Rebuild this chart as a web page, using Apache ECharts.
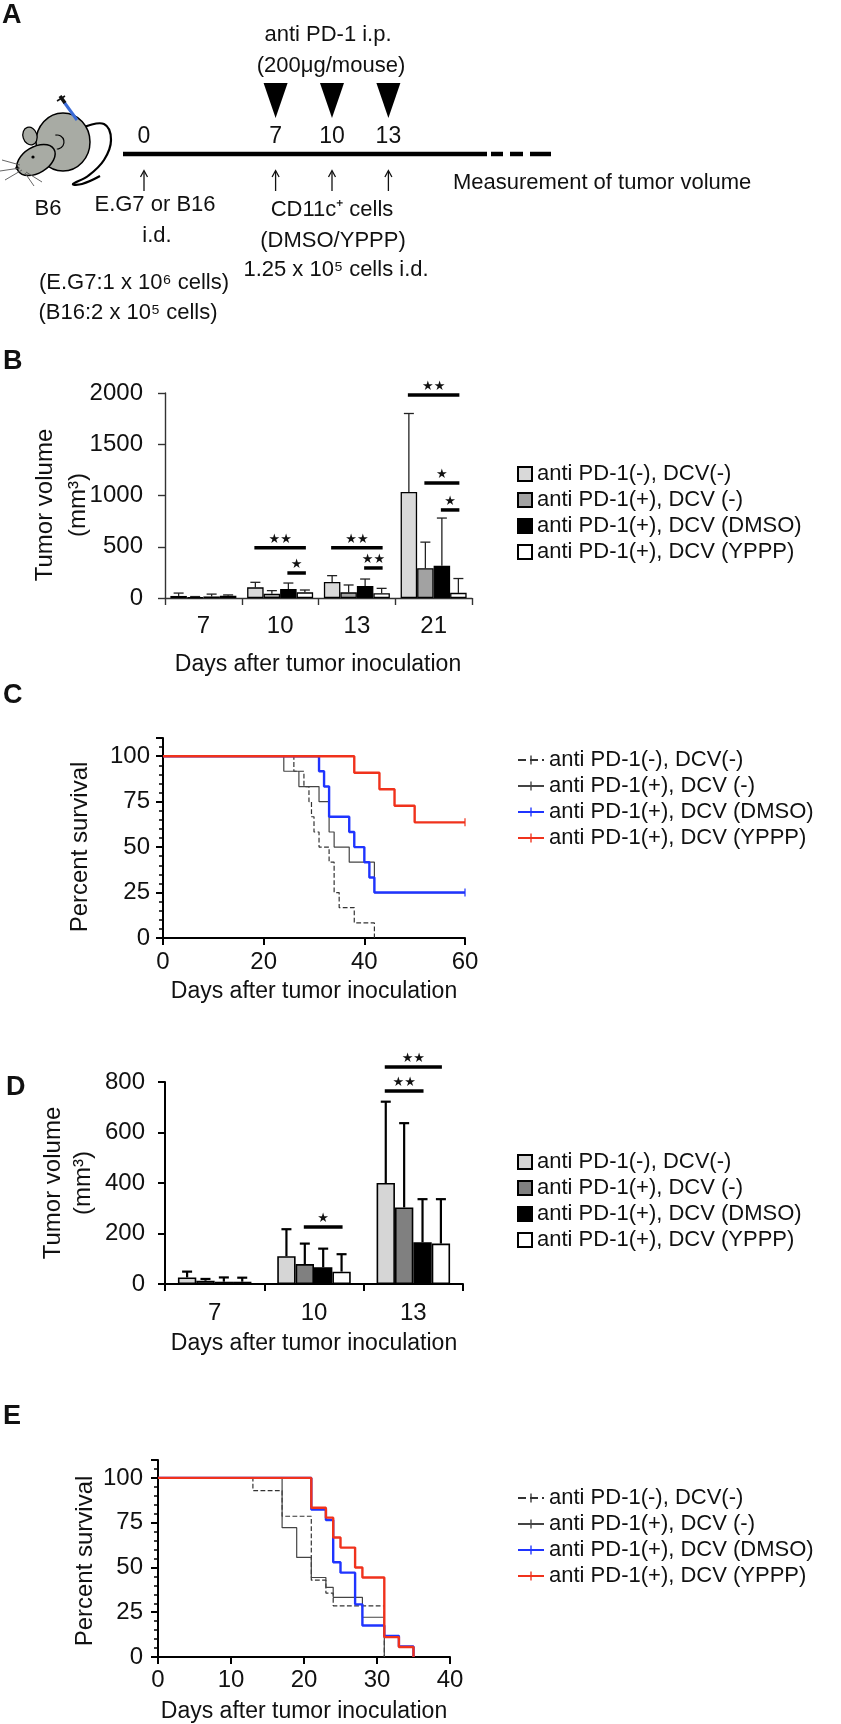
<!DOCTYPE html>
<html>
<head>
<meta charset="utf-8">
<title>anti PD-1 / DCV</title>
<script src="https://cdn.jsdelivr.net/npm/echarts@6/dist/echarts.min.js"></script>
<style>
  body {margin: 0; background: #fff;}
  .panel {position: absolute; left: 0; top: 0; width: 841px; height: 1724px;}
</style>
</head>
<body>
<div id="pa" class="panel"></div>
<div id="pb" class="panel"></div>
<div id="pc" class="panel"></div>
<div id="pd" class="panel"></div>
<div id="pe" class="panel"></div>
<script>
var FONT = '"Liberation Sans", Arial, Helvetica, sans-serif';

// ---- data ----
var groups = ['anti PD-1(-), DCV(-)', 'anti PD-1(+), DCV (-)', 'anti PD-1(+), DCV (DMSO)', 'anti PD-1(+), DCV (YPPP)'];

// A: schedule (days)
var scheduleDays = [0, 7, 10, 13];
var antiPD1Days = [7, 10, 13];
var injectDays = [0, 7, 10, 13];

// B: E.G7 tumor volume (mm3), mean and top of error bar
var daysB = ['7', '10', '13', '21'];
var bMeanCtrl = [20, 104, 156, 1034];
var bMeanPD1  = [8, 42, 55, 290];
var bMeanDMSO = [15, 88, 117, 315];
var bMeanYPPP = [22, 55, 46, 50];
var bErrCtrl = [48, 153, 218, 1800];
var bErrPD1  = [14, 72, 127, 545];
var bErrDMSO = [38, 146, 185, 780];
var bErrYPPP = [30, 78, 94, 190];
// [day index, from bar, to bar, height, stars]
var bSig = [[1, 0, 3, 490, 2], [1, 2, 3, 244, 1], [2, 0, 3, 490, 2], [2, 2, 3, 293, 2],
            [3, 0, 3, 1980, 2], [3, 1, 3, 1122, 1], [3, 2, 3, 859, 1]];

// C: E.G7 survival [day, %]
var cCtrl = [[0, 100], [26, 91.7], [28, 83.3], [29, 75], [29.5, 66.7], [30, 58.3], [31, 50], [33, 41.7], [34, 25], [35, 16.7], [38, 8.3], [42, 0]];
var cPD1  = [[0, 100], [24, 91.7], [27, 83.3], [31, 75], [33, 58.3], [34, 50], [37, 41.7], [42, 25], [60, 25]];
var cDMSO = [[0, 100], [31, 91.7], [32, 83.3], [33, 66.7], [37, 58.3], [38, 50], [40, 41.7], [41, 33.3], [42, 25], [60, 25]];
var cYPPP = [[0, 100], [38, 90.9], [43, 81.8], [46, 72.7], [50, 63.6], [60, 63.6]];

// D: B16 tumor volume (mm3)
var daysD = ['7', '10', '13'];
var dMeanCtrl = [26, 110, 400];
var dMeanPD1  = [13, 79, 303];
var dMeanDMSO = [9, 66, 165];
var dMeanYPPP = [9, 49, 160];
var dErrCtrl = [49, 217, 722];
var dErrPD1  = [20, 160, 637];
var dErrDMSO = [26, 140, 336];
var dErrYPPP = [25, 118, 336];
var dSig = [[1, 1, 3, 226, 1], [2, 0, 3, 859, 2], [2, 0, 2, 764, 2]];

// E: B16 survival [day, %]
var eCtrl = [[0, 100], [13, 92.9], [17, 78.6], [21, 42.9], [23, 35.7], [24, 28.6], [31, 28.6], [31, 0]];
var ePD1  = [[0, 100], [17, 72.2], [19, 55.6], [21, 44.4], [23, 38.9], [24, 33.3], [28, 22.2], [31, 0]];
var eDMSO = [[0, 100], [21, 82.4], [23, 76.5], [24, 52.9], [25, 47.1], [27, 29.4], [28, 17.6], [31, 11.8], [33, 5.9], [35, 0]];
var eYPPP = [[0, 100], [21, 83.3], [23, 77.8], [24, 66.7], [25, 61.1], [27, 50], [28, 44.4], [31, 11.1], [33, 5.6], [35, 0]];

// ---- helpers ----
function txt(x, y, s, o) {
  o = o || {};
  return {type: 'text', x: x, y: y, rotation: o.rot || 0, z: 10,
    style: {text: s, fontSize: o.fs || 23, fontFamily: FONT, fontWeight: o.fw || 'normal',
      fill: '#111', align: o.align || 'center', verticalAlign: 'middle'}};
}
function panelLabel(x, y, s) { return txt(x, y, s, {fs: 27, fw: 'bold', align: 'left'}); }
function seg(x1, y1, x2, y2, color, w) {
  return {type: 'line', shape: {x1: x1, y1: y1, x2: x2, y2: y2}, style: {stroke: color, lineWidth: w}};
}
function plain(v) { return String(v); }

// ---- A: schedule ----
var ca = echarts.init(document.getElementById('pa'));
var mouseFill = '#a8aba4';
var fa = {fs: 22};
ca.setOption({
  animation: false,
  grid: {left: 123, top: 0, width: 364, height: 330, outerBoundsMode: 'none'},
  xAxis: {type: 'value', min: -1.117, max: 18.245, show: false},
  yAxis: {type: 'value', min: 0, max: 330, inverse: true, show: false},
  series: [
    {type: 'custom', silent: true, data: scheduleDays.map(function (d) { return [d]; }),
      renderItem: function (params, api) {
        var p = api.coord([api.value(0), 137]);
        return {type: 'text', x: p[0], y: p[1], style: {text: String(api.value(0)), fontSize: 23,
          fontFamily: FONT, fill: '#111', align: 'center', verticalAlign: 'middle'}};
      }},
    {type: 'custom', silent: true, data: antiPD1Days.map(function (d) { return [d]; }),
      renderItem: function (params, api) {
        var p = api.coord([api.value(0), 83]);
        return {type: 'polygon', shape: {points: [[p[0] - 12, 83], [p[0] + 12, 83], [p[0], 118]]}, style: {fill: '#000'}};
      }},
    {type: 'custom', silent: true, data: injectDays.map(function (d) { return [d]; }),
      renderItem: function (params, api) {
        var x = api.coord([api.value(0), 0])[0];
        var st = {stroke: '#111', lineWidth: 1.3, fill: 'none'};
        return {type: 'group', children: [
          {type: 'line', shape: {x1: x, y1: 191, x2: x, y2: 171}, style: st},
          {type: 'polyline', shape: {points: [[x - 3.5, 177], [x, 170.5], [x + 3.5, 177]]}, style: st}]};
      }}
  ],
  graphic: [
    panelLabel(2, 16, 'A'),
    // mouse
    {type: 'polyline', shape: {points: [[84, 127], [104, 124], [111, 140], [104, 160], [88, 176], [73, 184], [82, 184], [100, 176]], smooth: 0.4},
      style: {stroke: '#000', lineWidth: 2.2, fill: 'none'}},
    {type: 'ellipse', shape: {cx: 63, cy: 142, rx: 27, ry: 29}, style: {fill: mouseFill, stroke: '#000', lineWidth: 1.5}},
    {type: 'ellipse', shape: {cx: 0, cy: 0, rx: 21, ry: 13}, x: 36, y: 160, rotation: 0.55,
      style: {fill: mouseFill, stroke: '#000', lineWidth: 1.5}},
    {type: 'ellipse', shape: {cx: 0, cy: 0, rx: 7, ry: 9}, x: 30, y: 136, rotation: 0.3,
      style: {fill: mouseFill, stroke: '#000', lineWidth: 1.3}},
    {type: 'arc', shape: {cx: 57, cy: 142, r: 7, startAngle: -1.8, endAngle: 1.6}, style: {stroke: '#000', lineWidth: 1.2, fill: 'none'}},
    {type: 'circle', shape: {cx: 33, cy: 157, r: 1.6}, style: {fill: '#000'}},
    {type: 'circle', shape: {cx: 17, cy: 168, r: 1.8}, style: {fill: '#000'}},
    seg(20, 165, 2, 160, '#555', 0.9),
    seg(20, 168, 0, 171, '#555', 0.9),
    seg(22, 170, 5, 180, '#555', 0.9),
    seg(26, 172, 42, 182, '#555', 0.9),
    seg(25, 173, 34, 186, '#555', 0.9),
    seg(64, 102, 77, 120, '#3a6ad6', 3),
    seg(60, 96, 65, 103, '#111', 3.5),
    seg(57, 101, 65, 96, '#111', 1.5),
    // timeline
    seg(123, 154, 487, 154, '#000', 4.5),
    seg(491, 154, 503, 154, '#000', 4.5),
    seg(510, 154, 523, 154, '#000', 4.5),
    seg(530, 154, 551, 154, '#000', 4.5),
    txt(328, 35, 'anti PD-1 i.p.', fa),
    txt(331, 66, '(200μg/mouse)', fa),
    txt(48, 209, 'B6', fa),
    txt(155, 205, 'E.G7 or B16', fa),
    txt(157, 236, 'i.d.', fa),
    txt(332, 210, 'CD11c⁺ cells', fa),
    txt(333, 241, '(DMSO/YPPP)', fa),
    txt(336, 270, '1.25 x 10⁵ cells i.d.', fa),
    txt(134, 283, '(E.G7:1 x 10⁶ cells)', fa),
    txt(128, 313, '(B16:2 x 10⁵ cells)', fa),
    txt(453, 183, 'Measurement of tumor volume', {align: 'left', fs: 22})
  ]
});

// ---- bar panels ----
function barChart(id, p) {
  var chart = echarts.init(document.getElementById(id));
  var barW = function (api) { return api.size([1, 0])[0] * (1 - p.gap) / 4; };
  var series = groups.map(function (name, g) {
    return {type: 'bar', name: name, data: p.means[g], barGap: '0%', barCategoryGap: (p.gap * 100) + '%', z: 3,
      itemStyle: {color: p.colors[g], borderColor: '#000', borderWidth: p.barBorder}};
  });
  var errData = [];
  p.means.forEach(function (row, g) {
    row.forEach(function (m, c) { errData.push([c, m, p.errs[g][c], g]); });
  });
  series.push({type: 'custom', silent: true, z: 2, data: errData, encode: {x: 0, y: [1, 2]},
    renderItem: function (params, api) {
      var w = barW(api);
      var b = api.coord([api.value(0), api.value(1)]);
      var t = api.coord([api.value(0), api.value(2)]);
      var x = b[0] + (api.value(3) - 1.5) * w;
      var st = {stroke: p.errColor, lineWidth: p.errWidth};
      return {type: 'group', children: [
        {type: 'line', shape: {x1: x, y1: b[1], x2: x, y2: t[1]}, style: st},
        {type: 'line', shape: {x1: x - p.cap / 2, y1: t[1], x2: x + p.cap / 2, y2: t[1]}, style: st}]};
    }});
  series.push({type: 'custom', silent: true, z: 4, data: p.sig, encode: {x: 0, y: 3},
    renderItem: function (params, api) {
      var w = barW(api);
      var pt = api.coord([api.value(0), api.value(3)]);
      var x1 = pt[0] + (api.value(1) - 1.5) * w, x2 = pt[0] + (api.value(2) - 1.5) * w;
      var stars = new Array(api.value(4) + 1).join('★');
      return {type: 'group', children: [
        {type: 'line', shape: {x1: x1 - 1, y1: pt[1], x2: x2 + 1, y2: pt[1]}, style: {stroke: '#000', lineWidth: 3.5}},
        {type: 'text', x: (x1 + x2) / 2, y: pt[1] - 2, style: {text: stars, fontSize: 13, fill: '#111',
          fontFamily: '"DejaVu Sans"', align: 'center', verticalAlign: 'bottom'}}]};
    }});
  var axLine = {lineStyle: {color: p.axisColor, width: p.axisWidth}};
  chart.setOption({
    animation: false,
    grid: {left: p.grid[0], top: p.grid[1], width: p.grid[2], height: p.grid[3], outerBoundsMode: 'none'},
    xAxis: {type: 'category', data: p.cats, axisLine: axLine,
      axisTick: {show: true, length: 7, lineStyle: {color: p.axisColor, width: p.axisWidth}},
      axisLabel: {fontSize: 24, color: '#111', fontFamily: FONT, margin: p.xMargin},
      splitLine: {show: false}},
    yAxis: {type: 'value', min: 0, max: p.ymax, interval: p.yint,
      axisLine: {show: true, lineStyle: {color: p.axisColor, width: p.axisWidth}},
      axisTick: {show: true, length: 7, lineStyle: {color: p.axisColor, width: p.axisWidth}},
      axisLabel: {fontSize: 24, color: '#111', fontFamily: FONT, margin: p.yMargin, formatter: plain},
      splitLine: {show: false}},
    legend: {data: groups, orient: 'vertical', left: 512, top: p.legendTop, icon: 'rect',
      itemWidth: 14, itemHeight: 14, itemGap: 4, selectedMode: false,
      textStyle: {fontSize: 22, color: '#111', fontFamily: FONT}},
    graphic: p.graphic,
    series: series
  });
}

barChart('pb', {
  cats: daysB, gap: 0.14,
  means: [bMeanCtrl, bMeanPD1, bMeanDMSO, bMeanYPPP],
  errs: [bErrCtrl, bErrPD1, bErrDMSO, bErrYPPP],
  sig: bSig,
  colors: ['#d9d9d9', '#a2a2a2', '#000000', '#ffffff'],
  grid: [165, 393, 307, 205], ymax: 2000, yint: 500,
  barBorder: 1.3, errWidth: 1.3, errColor: '#222', cap: 10,
  axisColor: '#333', axisWidth: 1.4, xMargin: 16, yMargin: 22,
  legendTop: 458,
  graphic: [
    panelLabel(3, 362, 'B'),
    txt(45, 505, 'Tumor volume', {rot: Math.PI / 2, fs: 24}),
    txt(78, 505, '(mm³)', {rot: Math.PI / 2, fs: 24}),
    txt(318, 665, 'Days after tumor inoculation')
  ]
});

barChart('pd', {
  cats: daysD, gap: 0.26,
  means: [dMeanCtrl, dMeanPD1, dMeanDMSO, dMeanYPPP],
  errs: [dErrCtrl, dErrPD1, dErrDMSO, dErrYPPP],
  sig: dSig,
  colors: ['#d6d6d6', '#808080', '#000000', '#ffffff'],
  grid: [165, 1082, 298, 202], ymax: 800, yint: 200,
  barBorder: 1.6, errWidth: 2.2, errColor: '#000', cap: 10,
  axisColor: '#000', axisWidth: 2, xMargin: 17, yMargin: 20,
  legendTop: 1146,
  graphic: [
    panelLabel(6, 1088, 'D'),
    txt(53, 1183, 'Tumor volume', {rot: Math.PI / 2, fs: 24}),
    txt(83, 1183, '(mm³)', {rot: Math.PI / 2, fs: 24}),
    txt(314, 1344, 'Days after tumor inoculation')
  ]
});

// ---- survival panels ----
var tickSym = 'path://M0,0L0.1,0L0.1,0.1Z M9.9,9.9L10,9.9L10,10Z M4.4,1L5.6,1L5.6,9L4.4,9Z';
var lineColors = ['#333333', '#444444', '#1f34ff', '#f0321c'];
var lineWidths = [1.2, 1.2, 2.4, 2.4];
var lineTypes = ['dashed', 'solid', 'solid', 'solid'];

function kmChart(id, p) {
  var chart = echarts.init(document.getElementById(id));
  var drawOrder = [0, 1, 3, 2];
  var series = drawOrder.map(function (g) {
    var pts = p.curves[g];
    var data = pts.map(function (pt, i) {
      if (i === pts.length - 1 && p.censorEnd[g]) return {value: pt, symbolSize: 10};
      return pt;
    });
    return {type: 'line', name: groups[g], step: 'end', data: data, z: 2 + g,
      symbol: tickSym, symbolSize: 0, showSymbol: true, silent: true,
      itemStyle: {color: lineColors[g]},
      lineStyle: {color: lineColors[g], width: lineWidths[g], type: lineTypes[g]}};
  });
  var tk = {show: true, length: 7, lineStyle: {color: '#000', width: 2}};
  chart.setOption({
    animation: false,
    grid: {left: p.grid[0], top: p.grid[1], width: p.grid[2], height: p.grid[3], outerBoundsMode: 'none'},
    xAxis: {type: 'value', min: 0, max: p.xmax, interval: p.xint,
      axisLine: {onZero: false, lineStyle: {color: '#000', width: 2}}, axisTick: tk,
      axisLabel: {fontSize: 24, color: '#111', fontFamily: FONT, margin: p.xMargin},
      splitLine: {show: false}},
    yAxis: {type: 'value', min: 0, max: 110, interval: 25,
      axisLine: {show: true, lineStyle: {color: '#000', width: 2}}, axisTick: tk,
      minorTick: {show: true, splitNumber: 5, length: 4, lineStyle: {color: '#000', width: 1.5}},
      axisLabel: {fontSize: 24, color: '#111', fontFamily: FONT, margin: p.yMargin, showMaxLabel: false},
      splitLine: {show: false}, minorSplitLine: {show: false}},
    legend: {data: groups, orient: 'vertical', left: 512, top: p.legendTop,
      itemWidth: 26, itemHeight: 14, itemGap: 4, selectedMode: false,
      textStyle: {fontSize: 22, color: '#111', fontFamily: FONT}},
    graphic: p.graphic,
    series: series
  });
}

kmChart('pc', {
  curves: [cCtrl, cPD1, cDMSO, cYPPP], censorEnd: [false, false, true, true],
  grid: [163, 738, 302, 200], xmax: 60, xint: 20, xMargin: 12, yMargin: 13,
  legendTop: 744,
  graphic: [
    panelLabel(3, 696, 'C'),
    txt(80, 847, 'Percent survival', {rot: Math.PI / 2, fs: 24}),
    txt(314, 992, 'Days after tumor inoculation')
  ]
});

kmChart('pe', {
  curves: [eCtrl, ePD1, eDMSO, eYPPP], censorEnd: [false, false, false, false],
  grid: [158, 1460, 292, 197], xmax: 40, xint: 10, xMargin: 11, yMargin: 15,
  legendTop: 1482,
  graphic: [
    panelLabel(3, 1417, 'E'),
    txt(85, 1561, 'Percent survival', {rot: Math.PI / 2, fs: 24}),
    txt(304, 1712, 'Days after tumor inoculation')
  ]
});
</script>
</body>
</html>
